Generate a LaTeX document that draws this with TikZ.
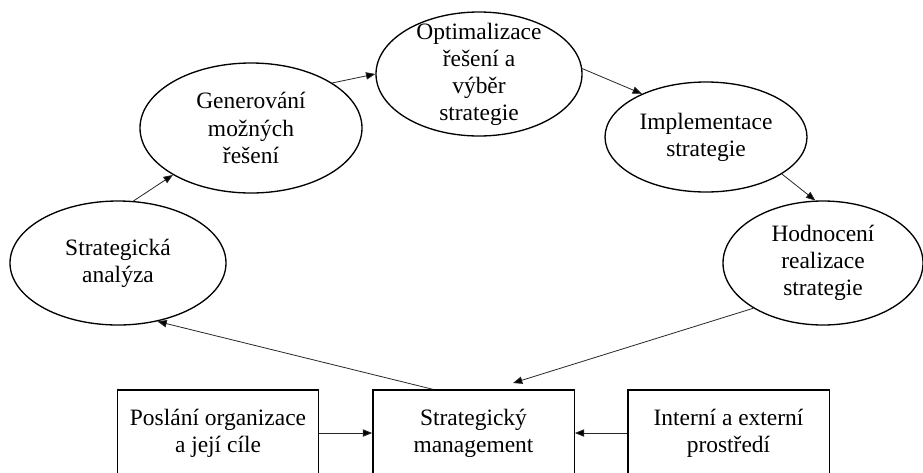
\documentclass[tikz,border=0pt]{standalone}
\usepackage{fontspec}
\setmainfont{Liberation Serif}
\usetikzlibrary{arrows.meta,shapes.geometric,calc}
\begin{document}
\begin{tikzpicture}[x=0.75pt,y=-0.75pt,
  every node/.style={font=\fontsize{17.6}{20.3}\selectfont, align=center},
  stage/.style={ellipse, draw, line width=1pt, inner sep=0pt},
  block/.style={rectangle, draw, line width=1pt, inner sep=0pt,
                minimum width=151pt, minimum height=64.5pt},
  link/.style={draw=black!85, line width=0.6pt,
               -{Triangle[length=7pt,width=5.5pt,fill=black]}}]
  \useasboundingbox (0,0) rectangle (923,472);

  % strategy cycle
  \node[stage, minimum width=162pt, minimum height=93pt,
        label={center:{Strategická\\analýza}}] (s1) at (118,263) {};
  \node[stage, minimum width=166.5pt, minimum height=97.5pt,
        label={center:{Generování\\možných\\řešení}}] (s2) at (251,128) {};
  \node[stage, minimum width=154.5pt, minimum height=93pt,
        label={center:{Optimalizace\\řešení a\\výběr\\strategie}}] (s3) at (479,74) {};
  \node[stage, minimum width=151.5pt, minimum height=82.5pt,
        label={center:{Implementace\\strategie}}] (s4) at (706,137) {};
  \node[stage, minimum width=150pt, minimum height=93pt,
        label={center:{Hodnocení\\realizace\\strategie}}] (s5) at (823,263) {};

  % inputs and the central block
  \node[block] (b1) at (218,433) {Poslání organizace\\a její cíle};
  \node[block] (b2) at (473.5,433) {Strategický\\management};
  \node[block] (b3) at (728.5,433) {Interní a externí\\prostředí};

  \coordinate (out) at ($(b2.north)+(-40.5,0)$);
  \coordinate (in) at (513,383);

  % connectors
  \draw[link] (b1.east) -- (b2.west);
  \draw[link] (b3.west) -- (b2.east);
  \draw[link] (out) -- (s1.-56);
  \draw[link] (s1.76) -- (s2.211);
  \draw[link] (s2.29) -- (s3.180);
  \draw[link] (s3.3) -- (s4.146);
  \draw[link] (s4.-26) -- (s5.97);
  \draw[link] (s5.213) -- (in);
\end{tikzpicture}
\end{document}
